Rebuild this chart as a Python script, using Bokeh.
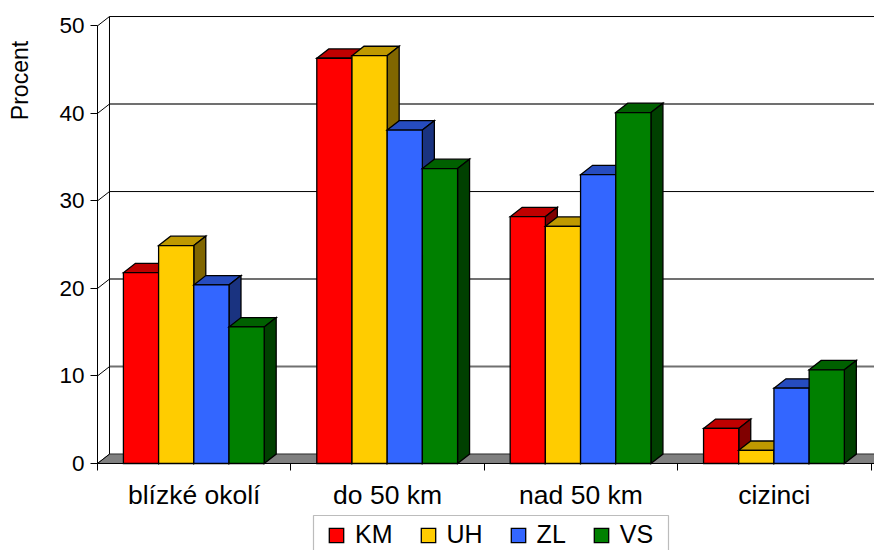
from math import pi

import numpy as np
from bokeh.embed import file_html
from bokeh.models import BoxAnnotation, FixedTicker, Label, Legend, LegendItem
from bokeh.plotting import figure
from bokeh.resources import INLINE

categories = ["blízké okolí", "do 50 km", "nad 50 km", "cizinci"]
series_names = ["KM", "UH", "ZL", "VS"]
km = [21.8, 46.3, 28.2, 4.0]
uh = [24.9, 46.6, 27.1, 1.5]
zl = [20.4, 38.1, 33.0, 8.6]
vs = [15.6, 33.7, 40.1, 10.7]
value_ticks = [0, 10, 20, 30, 40, 50]

front_colors = ["#ff0000", "#ffcc00", "#3366ff", "#008000"]
top_colors = ["#bf0000", "#bf9900", "#264cbf", "#006000"]
side_colors = ["#800000", "#806600", "#1a3380", "#004000"]

FONT = "Liberation Sans"

# The chart box is drawn with an oblique projection, so depth is a fixed
# shift in both data directions.
DX = 0.062
DY = 1.07
BAR_W = 0.182
GROUP_PAD = 0.134
X_START = -0.5016
X_END = 4.018
Y_START = -9.943
Y_END = 52.9

# The plot frame fills the whole page so the title and legend can sit inside it;
# both axes are pinned to zero.
p = figure(
    width=874, height=550, output_backend="svg", toolbar_location=None,
    x_range=(X_START, X_END), y_range=(Y_START, Y_END),
    min_border_left=0, min_border_right=0, min_border_top=0, min_border_bottom=0,
    outline_line_color=None,
)
p.grid.visible = False

# Floor of the box
p.patch([0, DX, X_END + DX, X_END], [0, DY, DY, 0],
        fill_color="#808080", line_color="#505050", line_width=1)

# Back wall: horizontal rules, the vertical edge and the side-wall diagonals
ticks = np.array(value_ticks, dtype=float)
rule_colors = ["#505050", "#707070", "#707070", "#000000", "#707070", "#000000"]
rule_widths = [1, 2, 2, 1, 2, 1]
p.segment(x0=[DX] * len(ticks), y0=ticks + DY, x1=[X_END + DX] * len(ticks), y1=ticks + DY,
          line_color=rule_colors, line_width=rule_widths)
p.segment(x0=[0] * len(ticks), y0=ticks, x1=[DX] * len(ticks), y1=ticks + DY,
          line_color="#000000", line_width=1)
p.segment(x0=[DX], y0=[DY], x1=[DX], y1=[ticks[-1] + DY], line_color="#000000", line_width=1)

legend_items = []
for s, values in enumerate([km, uh, zl, vs]):
    tops = np.array(values)
    left = np.arange(len(categories)) + GROUP_PAD + s * BAR_W
    right = left + BAR_W
    outline = dict(line_color="#000000", line_width=1.3, line_join="miter")
    p.patches(
        [[a, a + DX, b + DX, b] for a, b in zip(left, right)],
        [[t, t + DY, t + DY, t] for t in tops],
        fill_color=top_colors[s], **outline,
    )
    p.patches(
        [[b, b + DX, b + DX, b] for b in right],
        [[0, DY, t + DY, t] for t in tops],
        fill_color=side_colors[s], **outline,
    )
    front = p.quad(left=left, right=right, bottom=0, top=tops,
                   fill_color=front_colors[s], **outline)
    legend_items.append(LegendItem(label=series_names[s], renderers=[front]))

# Value axis stops at the top tick of the scale
p.yaxis.fixed_location = 0
p.yaxis.bounds = (0, 50)
p.yaxis.ticker = FixedTicker(ticks=value_ticks)
p.yaxis.major_tick_out = 7
p.yaxis.major_tick_in = 0
p.yaxis.minor_tick_line_color = None
p.yaxis.axis_line_color = "#000000"
p.yaxis.major_tick_line_color = "#000000"
p.yaxis.major_label_standoff = 6
p.yaxis.major_label_text_font = FONT
p.yaxis.major_label_text_font_size = "22.5px"
p.yaxis.major_label_text_color = "#000000"

# Category axis: labels sit mid-group, tick marks on the group boundaries
p.xaxis.fixed_location = 0
p.xaxis.bounds = (0, X_END)
p.xaxis.ticker = FixedTicker(
    ticks=[i + 0.5 for i in range(len(categories))],
    minor_ticks=list(range(len(categories) + 1)),
)
p.xaxis.major_label_overrides = {i + 0.5: c for i, c in enumerate(categories)}
p.xaxis.major_tick_line_color = None
p.xaxis.major_tick_out = 7
p.xaxis.minor_tick_out = 7
p.xaxis.minor_tick_in = 0
p.xaxis.minor_tick_line_color = "#000000"
p.xaxis.axis_line_color = "#000000"
p.xaxis.major_label_standoff = 10
p.xaxis.major_label_text_font = FONT
p.xaxis.major_label_text_font_size = "26.5px"
p.xaxis.major_label_text_color = "#000000"

p.add_layout(Label(
    x=19, y=470, x_units="screen", y_units="screen", text="Procent", angle=pi / 2,
    text_font=FONT, text_font_size="23px", text_color="#000000",
    text_align="center", text_baseline="alphabetic",
))

p.add_layout(BoxAnnotation(
    left=313, right=668, bottom=-6, top=35,
    left_units="screen", right_units="screen", bottom_units="screen", top_units="screen",
    fill_color="#ffffff", fill_alpha=1.0, line_color="#202020", line_width=1.2,
))

legend = Legend(
    items=legend_items, orientation="horizontal", location=(327, 1),
    glyph_width=18, glyph_height=18, label_standoff=10, spacing=26,
    padding=12, margin=0,
    label_text_font=FONT, label_text_font_size="25px", label_text_color="#000000",
    border_line_color=None, background_fill_alpha=0.0,
)
p.add_layout(legend)

open("out.html", "w").write(file_html(p, INLINE))
